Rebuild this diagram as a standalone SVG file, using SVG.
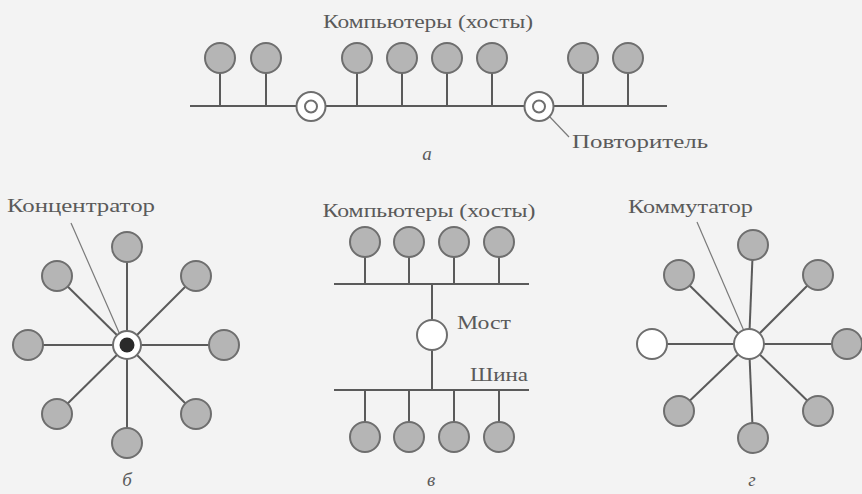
<svg xmlns="http://www.w3.org/2000/svg" width="862" height="494" viewBox="0 0 862 494">
<style>
.bg{fill:#f3f3f3}
.host{fill:#b5b5b5;stroke:#6e6e6e;stroke-width:2}
.white{fill:#ffffff;stroke:#6e6e6e;stroke-width:2}
.ln{stroke:#5a5a5a;stroke-width:2;fill:none}
.lead{stroke:#7a7a7a;stroke-width:1.2;fill:none}
.t{font-family:"Liberation Serif","DejaVu Serif",serif;font-size:18px;fill:#5a5a5a}
.it{font-family:"Liberation Serif","DejaVu Serif",serif;font-size:19px;font-style:italic;fill:#5a5a5a}
</style>
<rect class="bg" x="0" y="0" width="862" height="494"/>

<!-- connectors -->
<g id="connectors">
  <!-- a -->
  <line class="ln" x1="190" y1="106" x2="667" y2="106"/>
  <line class="ln" x1="220" y1="73" x2="220" y2="106"/>
  <line class="ln" x1="266" y1="73" x2="266" y2="106"/>
  <line class="ln" x1="357" y1="73" x2="357" y2="106"/>
  <line class="ln" x1="402" y1="73" x2="402" y2="106"/>
  <line class="ln" x1="447" y1="73" x2="447" y2="106"/>
  <line class="ln" x1="492" y1="73" x2="492" y2="106"/>
  <line class="ln" x1="583" y1="73" x2="583" y2="106"/>
  <line class="ln" x1="628" y1="73" x2="628" y2="106"/>
  <line class="lead" x1="549" y1="116" x2="569" y2="137"/>
  <!-- б -->
  <line class="ln" x1="127" y1="345" x2="127" y2="247"/>
  <line class="ln" x1="127" y1="345" x2="57" y2="276"/>
  <line class="ln" x1="127" y1="345" x2="196" y2="276"/>
  <line class="ln" x1="127" y1="345" x2="36" y2="345"/>
  <line class="ln" x1="127" y1="345" x2="214" y2="345"/>
  <line class="ln" x1="127" y1="345" x2="57" y2="414"/>
  <line class="ln" x1="127" y1="345" x2="196" y2="414"/>
  <line class="ln" x1="127" y1="345" x2="127" y2="436"/>
  <line class="lead" x1="71" y1="223" x2="121" y2="337"/>
  <!-- в -->
  <line class="ln" x1="334" y1="284" x2="529" y2="284"/>
  <line class="ln" x1="334" y1="390" x2="529" y2="390"/>
  <line class="ln" x1="365" y1="256" x2="365" y2="284"/>
  <line class="ln" x1="409" y1="256" x2="409" y2="284"/>
  <line class="ln" x1="454" y1="256" x2="454" y2="284"/>
  <line class="ln" x1="499" y1="256" x2="499" y2="284"/>
  <line class="ln" x1="432" y1="284" x2="432" y2="390"/>
  <line class="ln" x1="365" y1="390" x2="365" y2="422"/>
  <line class="ln" x1="409" y1="390" x2="409" y2="422"/>
  <line class="ln" x1="454" y1="390" x2="454" y2="422"/>
  <line class="ln" x1="499" y1="390" x2="499" y2="422"/>
  <!-- г -->
  <line class="ln" x1="749" y1="344" x2="753" y2="245"/>
  <line class="ln" x1="749" y1="344" x2="679" y2="275"/>
  <line class="ln" x1="749" y1="344" x2="818" y2="275"/>
  <line class="ln" x1="749" y1="344" x2="652" y2="344"/>
  <line class="ln" x1="749" y1="344" x2="838" y2="344"/>
  <line class="ln" x1="749" y1="344" x2="679" y2="411"/>
  <line class="ln" x1="749" y1="344" x2="818" y2="411"/>
  <line class="ln" x1="749" y1="344" x2="753" y2="438"/>
  <line class="lead" x1="697" y1="222" x2="744" y2="331"/>
</g>

<!-- a: bus with repeaters -->
<g id="a-hosts">
  <circle class="host" cx="220" cy="58" r="15"/>
  <circle class="host" cx="266" cy="58" r="15"/>
  <circle class="host" cx="357" cy="58" r="15"/>
  <circle class="host" cx="402" cy="58" r="15"/>
  <circle class="host" cx="447" cy="58" r="15"/>
  <circle class="host" cx="492" cy="58" r="15"/>
  <circle class="host" cx="583" cy="58" r="15"/>
  <circle class="host" cx="628" cy="58" r="15"/>
</g>
<g id="repeater1">
  <circle class="white" cx="311" cy="106.5" r="14.5"/>
  <circle class="white" cx="311" cy="106.5" r="6"/>
</g>
<g id="repeater2">
  <circle class="white" cx="539" cy="106.5" r="14.5"/>
  <circle class="white" cx="539" cy="106.5" r="6"/>
</g>
<g id="a-labels">
  <text class="t" x="428" y="28" text-anchor="middle" textLength="210" lengthAdjust="spacingAndGlyphs">Компьютеры (хосты)</text>
  <text class="t" x="572" y="148" textLength="136" lengthAdjust="spacingAndGlyphs">Повторитель</text>
  <text class="it" x="427" y="160" text-anchor="middle">a</text>
</g>

<!-- б: hub star -->
<g id="b-hosts">
  <circle class="host" cx="127" cy="247" r="15"/>
  <circle class="host" cx="57" cy="276" r="15"/>
  <circle class="host" cx="196" cy="276" r="15"/>
  <circle class="host" cx="28" cy="345" r="15"/>
  <circle class="host" cx="224" cy="345" r="15"/>
  <circle class="host" cx="57" cy="414" r="15"/>
  <circle class="host" cx="196" cy="414" r="15"/>
  <circle class="host" cx="127" cy="443" r="15"/>
</g>
<g id="hub">
  <circle class="white" cx="127" cy="345" r="14"/>
  <circle cx="127" cy="345" r="7.5" fill="#2a2a2a"/>
</g>
<g id="b-labels">
  <text class="t" x="7" y="212" textLength="148" lengthAdjust="spacingAndGlyphs">Концентратор</text>
  <text class="it" x="127" y="486" text-anchor="middle">б</text>
</g>

<!-- в: bridge -->
<g id="c-hosts">
  <circle class="host" cx="365" cy="242" r="15"/>
  <circle class="host" cx="409" cy="242" r="15"/>
  <circle class="host" cx="454" cy="242" r="15"/>
  <circle class="host" cx="499" cy="242" r="15"/>
  <circle class="host" cx="365" cy="437" r="15"/>
  <circle class="host" cx="409" cy="437" r="15"/>
  <circle class="host" cx="454" cy="437" r="15"/>
  <circle class="host" cx="499" cy="437" r="15"/>
</g>
<g id="bridge">
  <circle class="white" cx="432" cy="335" r="15"/>
</g>
<g id="c-labels">
  <text class="t" x="429" y="217" text-anchor="middle" textLength="213" lengthAdjust="spacingAndGlyphs">Компьютеры (хосты)</text>
  <text class="t" x="457" y="329" textLength="54" lengthAdjust="spacingAndGlyphs">Мост</text>
  <text class="t" x="470" y="381" textLength="58" lengthAdjust="spacingAndGlyphs">Шина</text>
  <text class="it" x="431" y="486" text-anchor="middle">в</text>
</g>

<!-- г: switch star -->
<g id="d-hosts">
  <circle class="host" cx="753" cy="245" r="15"/>
  <circle class="host" cx="679" cy="275" r="15"/>
  <circle class="host" cx="818" cy="275" r="15"/>
  <circle class="white" cx="652" cy="344" r="15"/>
  <circle class="host" cx="847" cy="344" r="15"/>
  <circle class="host" cx="679" cy="411" r="15"/>
  <circle class="host" cx="818" cy="411" r="15"/>
  <circle class="host" cx="753" cy="438" r="15"/>
</g>
<g id="switch">
  <circle class="white" cx="749" cy="344" r="15"/>
</g>
<g id="d-labels">
  <text class="t" x="628" y="213" textLength="125" lengthAdjust="spacingAndGlyphs">Коммутатор</text>
  <text class="it" x="752" y="486" text-anchor="middle">г</text>
</g>
</svg>
